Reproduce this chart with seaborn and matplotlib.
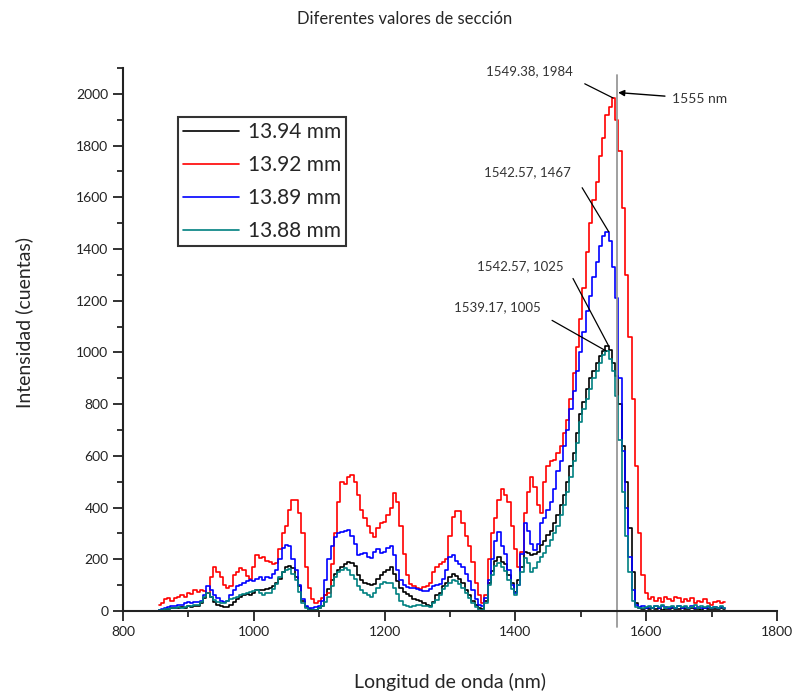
import matplotlib
matplotlib.use('Agg')
import matplotlib.pyplot as plt
import pandas as pd
import seaborn as sns
from matplotlib.ticker import MultipleLocator

# wavelength grid (nm), 5 nm steps
wavelength = list(range(855, 1725, 5))

# 13.94 mm (black)
counts_1394 = [
    2, 5, 8, 6, 10, 12, 10, 15, 12, 18,
    15, 20, 18, 30, 50, 70, 55, 35, 25, 20,
    14, 15, 25, 35, 45, 55, 62, 65, 62, 70,
    80, 82, 80, 85, 88, 95, 110, 125, 150, 170,
    175, 165, 130, 95, 40, 15, 8, 5, 3, 10,
    20, 60, 85, 120, 145, 160, 172, 180, 190, 185,
    175, 140, 120, 110, 105, 100, 105, 125, 140, 150,
    160, 170, 145, 115, 90, 75, 65, 58, 48, 42,
    38, 32, 25, 20, 35, 60, 70, 95, 110, 130,
    145, 135, 125, 110, 80, 60, 40, 25, 10, 8,
    40, 110, 155, 195, 210, 190, 180, 140, 110, 75,
    120, 170, 230, 225, 215, 220, 230, 255, 270, 295,
    310, 340, 370, 410, 450, 500, 560, 610, 690, 760,
    810, 860, 900, 930, 960, 985, 1005, 1025, 1010, 960,
    910, 800, 640, 500, 320, 150, 30, 12, 8, 10,
    6, 10, 8, 12, 5, 9, 7, 11, 6, 8,
    10, 6, 8, 12, 7, 9, 5, 10, 8, 6,
    9, 7, 10, 8,
]

# 13.92 mm (red)
counts_1392 = [
    25, 30, 45, 50, 40, 50, 55, 60, 55, 68,
    65, 80, 75, 82, 78, 70, 130, 170, 150, 130,
    100, 88, 95, 140, 150, 165, 160, 135, 125, 170,
    215, 205, 210, 195, 190, 180, 185, 240, 300, 330,
    390, 430, 430, 380, 300, 170, 90, 45, 30, 40,
    50, 60, 70, 180, 300, 420, 500, 490, 520, 525,
    500, 450, 390, 360, 330, 300, 285, 320, 340, 345,
    370, 400, 455, 420, 330, 220, 140, 105, 95, 90,
    85, 92, 95, 110, 150, 170, 180, 190, 200, 290,
    365, 385, 385, 340, 290, 250, 190, 110, 60, 30,
    60, 200, 300, 360, 430, 470, 450, 420, 330, 240,
    170, 230, 380, 460, 520, 480, 410, 380, 500, 560,
    580, 585, 610, 640, 690, 740, 820, 920, 1020, 1130,
    1250, 1390, 1500, 1590, 1660, 1760, 1830, 1920, 1950, 1984,
    1900, 1780, 1560, 1300, 1060, 820, 560, 300, 140, 70,
    45, 55, 40, 50, 35, 55, 45, 40, 55, 50,
    35, 45, 40, 50, 30, 40, 35, 45, 30, 25,
    35, 40, 30, 35,
]

# 13.89 mm (blue)
counts_1389 = [
    5, 8, 12, 15, 18, 20, 22, 25, 30, 33,
    30, 35, 33, 40, 60, 95, 80, 62, 50, 40,
    33, 40, 60, 80, 95, 100, 110, 115, 120, 115,
    125, 130, 120, 130, 128, 145, 160, 200, 245, 255,
    250, 200, 160, 100, 45, 20, 12, 10, 14, 20,
    40, 120, 200, 250, 285, 300, 305, 310, 315, 290,
    260, 215, 220, 225, 210, 205, 230, 240, 225, 230,
    245, 250, 215, 160, 120, 100, 92, 90, 88, 85,
    80, 78, 76, 85, 95, 100, 105, 125, 160, 210,
    218, 195, 180, 170, 145, 115, 80, 45, 25, 18,
    50, 120, 200, 270, 305, 250, 220, 160, 100, 70,
    100, 220, 340, 310, 260, 236, 260, 340, 360, 390,
    420, 470, 540, 580, 640, 700, 780, 850, 930, 1000,
    1080, 1160, 1220, 1290, 1350, 1410, 1450, 1467, 1430, 1330,
    1210, 900, 620, 400, 210, 80, 25, 15, 20, 12,
    15, 10, 18, 12, 20, 14, 10, 16, 12, 18,
    10, 14, 12, 18, 10, 15, 12, 10, 16, 12,
    14, 10, 15, 12,
]

# 13.88 mm (teal)
counts_1388 = [
    3, 5, 6, 8, 10, 12, 14, 12, 15, 20,
    18, 22, 25, 35, 55, 68, 55, 42, 35, 30,
    32, 40, 45, 50, 55, 60, 66, 70, 75, 78,
    80, 70, 62, 68, 70, 85, 105, 130, 150, 160,
    162, 145, 120, 75, 30, 10, 3, 2, 5, 10,
    18, 35, 55, 95, 130, 150, 158, 165, 160, 140,
    125, 95, 80, 70, 62, 55, 70, 90, 105, 112,
    110, 108, 90, 65, 40, 25, 18, 17, 20, 23,
    22, 20, 18, 17, 30, 42, 60, 85, 95, 110,
    120, 115, 105, 90, 70, 50, 30, 15, 5, 4,
    30, 100, 140, 175, 185, 170, 155, 120, 85, 60,
    100, 150, 205, 185, 150, 165, 190, 210, 225, 250,
    275, 300, 330, 370, 410, 460, 520, 580, 650, 730,
    780, 820, 860, 900, 930, 960, 990, 1005, 975, 930,
    830, 660, 460, 290, 150, 40, 15, 10, 12, 15,
    18, 12, 20, 15, 22, 10, 16, 20, 12, 18,
    14, 20, 12, 16, 22, 10, 18, 14, 20, 12,
    16, 12, 18, 10,
]

series_labels = ['13.94 mm', '13.92 mm', '13.89 mm', '13.88 mm']
series_colors = ['black', 'red', 'blue', '#008080']

# peak annotations (wavelength, counts)
peaks = [(1549.38, 1984), (1542.57, 1467), (1542.57, 1025), (1539.17, 1005)]
label_xy = [(1422, 2089), (1419, 1699), (1407, 1332), (1373, 1174)]
leader_from = [(1506, 2039), (1502, 1637), (1488, 1286), (1456, 1124)]
marker_nm = 1555

df = pd.DataFrame({
    'wl': wavelength * 4,
    'counts': counts_1394 + counts_1392 + counts_1389 + counts_1388,
    'serie': [lab for lab in series_labels for _ in wavelength],
})

sns.set_style('ticks')
plt.rcParams['font.family'] = ['Lato', 'DejaVu Sans']

fig = plt.figure(figsize=(7.99, 6.94), dpi=100)
ax = fig.add_axes([0.154, 0.1196, 0.8185, 0.7824])

sns.lineplot(data=df, x='wl', y='counts', hue='serie', hue_order=series_labels,
             palette=dict(zip(series_labels, series_colors)), estimator=None,
             sort=False, lw=1.2, drawstyle='steps-mid', ax=ax, legend=False)

ax.set_xlim(800, 1800)
ax.set_ylim(0, 2100)
ax.set_xticks(range(800, 1801, 200))
ax.set_yticks(range(0, 2001, 200))
ax.xaxis.set_minor_locator(MultipleLocator(100))
ax.yaxis.set_minor_locator(MultipleLocator(100))
ax.tick_params(which='major', direction='out', length=7, width=1.3, labelsize=10, colors='#222222')
ax.tick_params(which='minor', direction='out', length=4.5, width=1.3)
sns.despine(ax=ax)
for s in ['left', 'bottom']:
    ax.spines[s].set_linewidth(1.5)
    ax.spines[s].set_color('#222222')

ax.set_xlabel('Longitud de onda (nm)', fontsize=14)
ax.set_ylabel('Intensidad (cuentas)', fontsize=14)
ax.xaxis.set_label_coords(0.5, -0.114)
ax.yaxis.set_label_coords(-0.138, 0.532)
fig.text(0.507, 0.973, 'Diferentes valores de sección', ha='center', va='center', fontsize=12)

# reference line at 1555 nm
ax.axvline(marker_nm, ymin=-0.03, ymax=0.988, color='#999999', lw=1.3, clip_on=False)
ax.annotate(f'{marker_nm} nm', xy=(marker_nm + 2, 2005), xytext=(1640, 1981),
            ha='left', va='center', fontsize=10, color='#333333',
            arrowprops=dict(arrowstyle='-|>', color='black', lw=1.0,
                            shrinkA=3, shrinkB=0, mutation_scale=9))

for (px, py), (tx, ty), (sx, sy) in zip(peaks, label_xy, leader_from):
    ax.annotate('', xy=(px, py), xytext=(sx, sy),
                arrowprops=dict(arrowstyle='-', color='black', lw=0.9, shrinkA=0, shrinkB=0))
    ax.text(tx, ty, f'{px:.2f}, {py}', ha='center', va='center', fontsize=9.5, color='#333333')

leg = ax.legend(ax.lines[:4], series_labels, loc='upper left', bbox_to_anchor=(0.084, 0.91),
                frameon=True, fancybox=False, edgecolor='black', fontsize=15,
                handlelength=2.7, handletextpad=0.4, borderpad=0.25,
                labelspacing=0.62, borderaxespad=0)
leg.get_frame().set_linewidth(1.5)

fig.savefig('out.png', dpi=100)
